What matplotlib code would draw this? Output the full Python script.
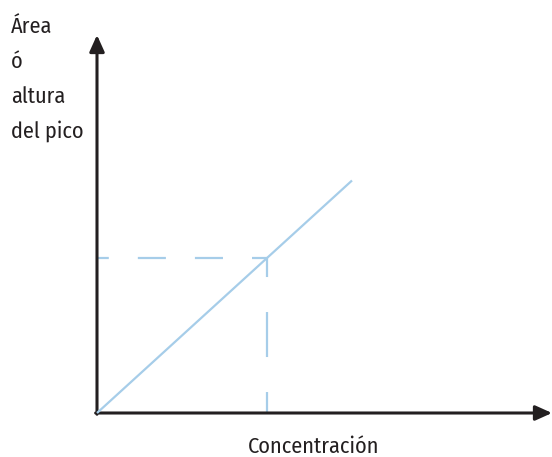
import matplotlib
matplotlib.use("Agg")
import matplotlib.pyplot as plt

plt.rcParams["lines.scale_dashes"] = False

# Calibration curve: concentration vs. peak area/height
calib_x = [0.0, 1.5]
calib_y = [0.0, 1.5]
sample_x = 1.0
sample_y = 1.0

y_label_lines = ["Área", "ó", "altura", "del pico"]
x_label = "Concentración"

axis_color = "#231f20"
line_color = "#a6cde9"
font = ["Fira Sans Condensed", "DejaVu Sans"]
text_style = dict(fontsize=16, family=font, fontweight="normal", color=axis_color)

W, H = 552, 457
fig = plt.figure(figsize=(W / 100, H / 100), dpi=100)
ax = fig.add_axes([0, 0, 1, 1])
ax.set_xlim(-97 / 170, 455 / 170)
ax.set_ylim(-44 / 155, 413 / 155)
ax.axis("off")

x_end = 455 / 170
y_end = 378 / 155

# axes with arrow heads
arrow = dict(arrowstyle="-|>,head_length=1.0,head_width=0.45", color=axis_color,
             lw=2.2, shrinkA=0, shrinkB=0)
ax.annotate("", xy=(x_end, 0), xytext=(-0.008, 0), arrowprops=arrow)
ax.annotate("", xy=(0, y_end), xytext=(0, -0.008), arrowprops=arrow)

# calibration line
ax.plot(calib_x, calib_y, color=line_color, lw=1.6, solid_capstyle="butt", zorder=3)

# dashed guides from the sample point to the axes
ax.plot([sample_x, 0], [sample_y, sample_y], color=line_color, lw=1.6, zorder=2,
        linestyle=(9.4, (20.2, 20.9)), dash_capstyle="butt")
ax.plot([sample_x, sample_x], [sample_y, 0], color=line_color, lw=1.6, zorder=2,
        linestyle=(18.7, (32.4, 25.2)), dash_capstyle="butt")

for i, line in enumerate(y_label_lines):
    fig.text(11 / W, 1 - (33 + 35 * i) / H, line, ha="left", va="baseline", **text_style)
fig.text(313.5 / W, 1 - 453 / H, x_label, ha="center", va="baseline", **text_style)

fig.savefig("out.png", dpi=100)
